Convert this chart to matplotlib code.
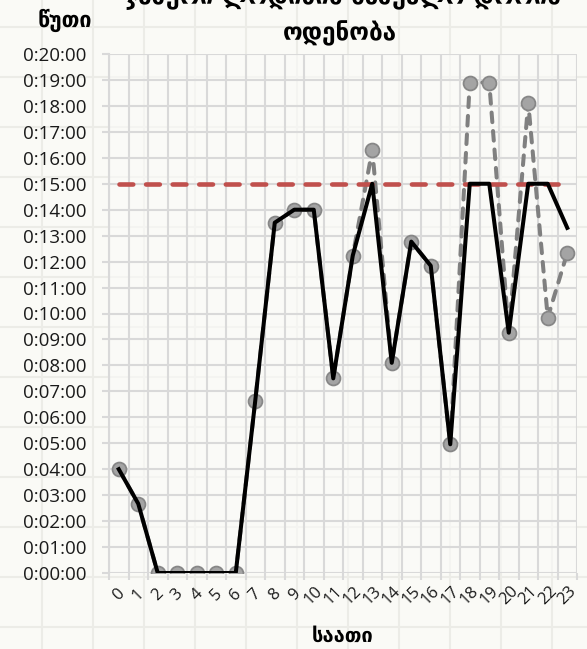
import matplotlib.pyplot as plt
import matplotlib.transforms as mtransforms
from matplotlib.ticker import FuncFormatter, MultipleLocator

# hours of the day
hours = list(range(24))
hour_labels = [str(h) for h in hours]

# measured waiting time per hour, minutes
measured = [4.0, 2.67, 0, 0, 0, 0, 0, 6.64, 13.5, 14.0, 14.0, 7.5,
            12.23, 16.3, 8.1, 12.77, 11.84, 4.96, 18.9, 18.9, 9.26, 18.12, 9.84, 12.34]
# accepted waiting time per hour, minutes
accepted = [4.0, 2.67, 0, 0, 0, 0, 0, 6.64, 13.5, 14.0, 14.0, 7.5,
            12.23, 15.0, 8.1, 12.77, 11.84, 4.96, 15.0, 15.0, 9.26, 15.0, 15.0, 13.3]
# norm, minutes
norm = [15.0] * 24

title_lines = ["ჯამური ლოდინის საშუალო დროის", "ოდენობა"]
y_title = "წუთი"
x_title = "საათი"

geo_font = ["DejaVu Sans"]
num_font = ["Open Sans", "DejaVu Sans"]

fig = plt.figure(figsize=(5.87, 6.49), dpi=100)
fig.patch.set_facecolor("#fafaf6")

# faint worksheet cells behind the chart
W, H = 587, 649
for px in range(42, W, 51):
    fig.add_artist(plt.Line2D([px / W, px / W], [0, 1], color="#ecece7", lw=1.5, zorder=-5))
for py in range(27, H, 50):
    fig.add_artist(plt.Line2D([0, 1], [1 - py / H, 1 - py / H], color="#ecece7", lw=1.5, zorder=-5))

ax = fig.add_axes([109 / W, 1 - 573 / H, (577 - 109) / W, (573 - 54) / H])
ax.set_facecolor("#fbfbf8")
ax.patch.set_alpha(0.6)

ax.plot(hours, measured, color="#808080", lw=2.9, dashes=(2.4, 2.2),
        dash_capstyle="round", marker="o", markersize=10,
        markerfacecolor="#a4a4a4", markeredgecolor="#878787", markeredgewidth=1.3, zorder=3)
ax.plot(hours, norm, color="#c0504d", lw=3.3, dashes=(3.0, 2.8),
        dash_capstyle="round", zorder=4)
ax.plot(hours, accepted, color="black", lw=2.9, solid_joinstyle="round", zorder=5)

ax.set_xlim(-0.5, 23.5)
ax.set_ylim(0, 20)

ax.yaxis.set_major_locator(MultipleLocator(1))
ax.yaxis.set_major_formatter(FuncFormatter(lambda v, pos: "0:%02d:00" % int(round(v))))
ax.set_xticks(hours)
ax.set_xticklabels(hour_labels, rotation=45, ha="center", va="center",
                   rotation_mode="anchor", fontfamily=num_font, fontsize=12)
ax.set_xticks([h - 0.5 for h in hours] + [23.5], minor=True)

# shift hour labels a little left of the category centres
shift = mtransforms.ScaledTranslation(-4 / 72, 0, fig.dpi_scale_trans)
for lab in ax.get_xticklabels():
    lab.set_transform(lab.get_transform() + shift)
    lab.set_color("#1a1a1a")

ax.grid(False)
ax.grid(True, which="minor", axis="x", color="#d9d9d9", lw=1.5)
ax.grid(True, which="major", axis="y", color="#d9d9d9", lw=1.5)
ax.tick_params(axis="x", which="major", length=0, pad=16)
ax.tick_params(axis="x", which="minor", length=5, color="#d9d9d9", width=1.5)
ax.tick_params(axis="y", length=5, color="#d9d9d9", width=1.5, pad=11)
for lab in ax.get_yticklabels():
    lab.set_fontfamily(num_font)
    lab.set_fontsize(13.5)
    lab.set_color("#1a1a1a")
for side in ["top", "right", "bottom"]:
    ax.spines[side].set_visible(False)
ax.spines["left"].set_color("#d9d9d9")
ax.spines["left"].set_linewidth(1.5)

fig.text(343 / W, 1 - 4 / H, title_lines[0], ha="center", va="baseline",
         fontsize=17.5, fontweight="bold", family=geo_font)
fig.text(340 / W, 1 - 33 / H, title_lines[1], ha="center", va="center",
         fontsize=17.5, fontweight="bold", family=geo_font)
fig.text(65 / W, 1 - 20 / H, y_title, ha="center", va="center",
         fontsize=15.5, fontweight="bold", family=geo_font)
fig.text(343 / W, 1 - 636 / H, x_title, ha="center", va="center",
         fontsize=14.5, fontweight="bold", family=geo_font)

fig.savefig("out.png", dpi=100, facecolor=fig.get_facecolor())
